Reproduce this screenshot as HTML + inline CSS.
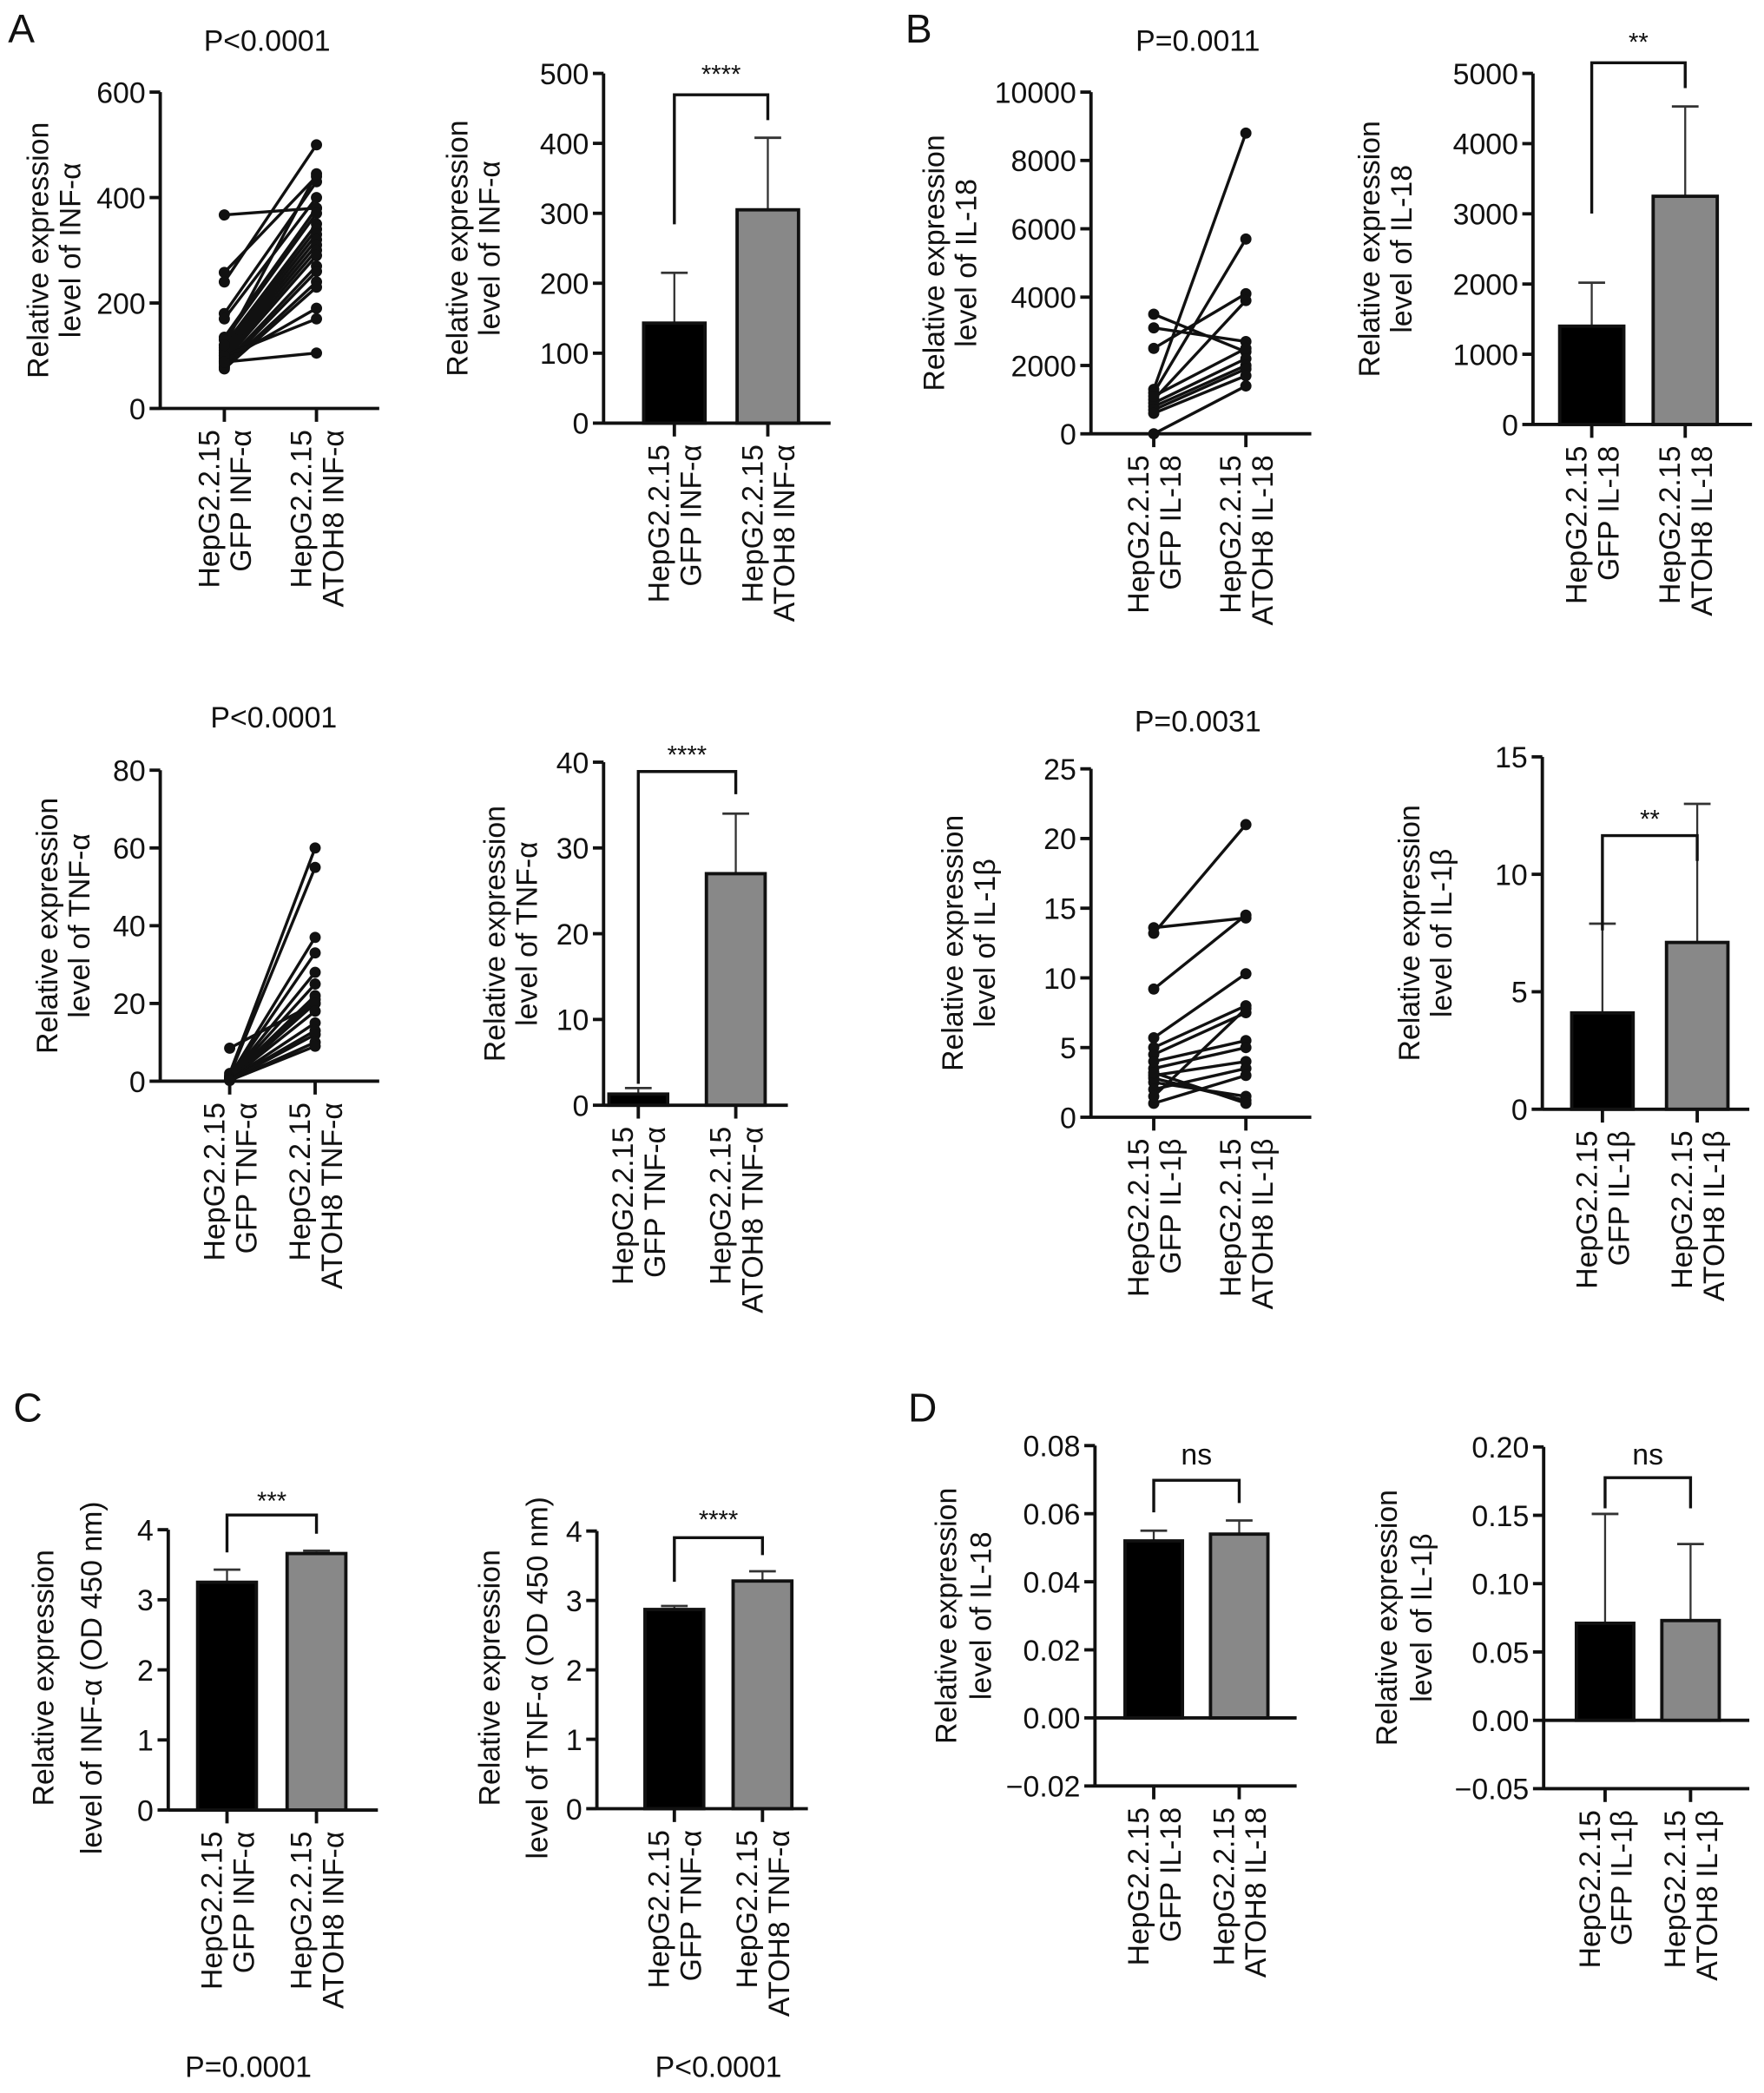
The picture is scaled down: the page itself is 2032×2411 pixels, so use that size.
<!DOCTYPE html>
<html><head><meta charset="utf-8"><style>html,body{margin:0;padding:0;background:#fff}svg{display:block}text{font-family:"Liberation Sans",sans-serif;fill:#111}</style></head>
<body>
<svg id="fig" xmlns="http://www.w3.org/2000/svg" width="2032" height="2411" viewBox="0 0 1321 1568" preserveAspectRatio="none"></svg>
<script>
// ---- data ----
const infGfp = [367,258,240,180,170,135,130,120,115,110,105,100,95,90,85,80,78,75,90,100,88,120];
const infAtoh = [380,440,500,430,400,380,370,350,340,330,320,310,300,290,270,260,240,230,190,170,105,445];
const tnfGfp = [8.5,2,1.5,1.2,1,1,0.8,0.8,0.6,0.5,0.5,0.4,0.3,0.3,0.2,0.2];
const tnfAtoh = [20,60,55,37,33,28,25,22,21,20,18,15,13,12,10,9];
const il18Gfp = [3500,3100,2500,1300,1200,1000,900,800,700,600,0,1100];
const il18Atoh = [2400,2700,4100,8800,5700,3900,2200,2000,1900,1700,1400,2500];
const il1bGfp = [13.6,13.2,9.2,5.7,5,4.5,4,3.5,3,2.5,2,1,2.8,3.2,1.5];
const il1bAtoh = [14.3,21,14.5,10.3,8,7.5,5.5,5,4,1.5,3.5,3,1.2,1,7.8];
const barA2 = [143,305], errA2 = [215,408];
const barB2 = [1400,3250], errB2 = [2020,4530];
const barA4 = [1.3,27], errA4 = [2,34];
const barB4 = [4.1,7.1], errB4 = [7.9,13];
const barC1 = [3.25,3.66], errC1 = [3.43,3.70];
const barC2 = [2.87,3.28], errC2 = [2.92,3.42];
const barD1 = [0.052,0.054], errD1 = [0.055,0.058];
const barD2 = [0.071,0.073], errD2 = [0.151,0.129];
const ticksA1=['0','200','400','600'], ticksA2=['0','100','200','300','400','500'];
const ticksB1=['0','2000','4000','6000','8000','10000'], ticksB2=['0','1000','2000','3000','4000','5000'];
const ticksA3=['0','20','40','60','80'], ticksA4=['0','10','20','30','40'];
const ticksB3=['0','5','10','15','20','25'], ticksB4=['0','5','10','15'];
const ticksC=['0','1','2','3','4'];
const ticksD1=['-0.02','0.00','0.02','0.04','0.06','0.08'], ticksD2=['-0.05','0.00','0.05','0.10','0.15','0.20'];

const FS=22;
const svg=document.getElementById('fig');
const NS='http://www.w3.org/2000/svg';
function mk(tag,a,parent){const e=document.createElementNS(NS,tag);for(const k in a)e.setAttribute(k,a[k]);(parent||svg).appendChild(e);return e;}
function txt(s,a,parent){const e=mk('text',a,parent);e.textContent=s;return e;}

function axes(p){
  const g=mk('g',{});
  
  
  const y=v=>p.y0+(v-p.min)/(p.max-p.min)*(p.y1-p.y0);
  p.y=y;
  const ya=mk('line',{x1:p.ax,y1:y(p.max),x2:p.ax,y2:y(p.min)+1,stroke:'#111','stroke-width':2.5},g);
  
  
  p.ticks.forEach(t=>{const v=parseFloat(t);const yy=y(v);
    mk('line',{x1:p.ax-8,y1:yy,x2:p.ax,y2:yy,stroke:'#111','stroke-width':2.5},g);
    const tl=txt(t.replace('-','\u2212'),{x:p.ax-11,y:yy+8,'text-anchor':'end','font-size':FS},g);
    
    
  });
  const base=p.base!==undefined?p.base:p.min;
  const xa=mk('line',{x1:p.ax,y1:y(base),x2:p.xend,y2:y(base),stroke:'#111','stroke-width':2.5},g);
  
  
  if(p.base!==undefined) mk('line',{x1:p.ax,y1:y(p.min),x2:p.xend,y2:y(p.min),stroke:'#111','stroke-width':2.5},g);
  const by=y(p.min);
  p.cx.forEach((cx,i)=>{
    mk('line',{x1:cx,y1:by,x2:cx,y2:by+10,stroke:'#111','stroke-width':2.5},g);
    const c1=txt('HepG2.2.15',{transform:`translate(${cx-4},${by+16}) rotate(-90)`,'text-anchor':'end','font-size':FS},g);
    
    
    const c2=txt(p.cats[i],{transform:`translate(${cx+20},${by+16}) rotate(-90)`,'text-anchor':'end','font-size':FS},g);
    
    
  });
  const ym=p.ylabY||(y(p.max)+y(p.min))/2;
  const sp=p.ylabSp||24;
  p.ylab.forEach((s,i)=>{const l=txt(s,{transform:`translate(${p.ylabX+i*sp},${ym}) rotate(-90)`,'text-anchor':'middle','font-size':FS},g);
    
    });
  if(p.title){const t=txt(p.title,{x:p.tx,y:p.ty,'text-anchor':'middle','font-size':FS},g);
    
    }
  return g;
}
function paired(p,a,b){
  const g=axes(p);
  a.forEach((v,i)=>{
    const ln=mk('line',{x1:p.cx[0],y1:p.y(v),x2:p.cx[1],y2:p.y(b[i]),stroke:'#111','stroke-width':2.2},g);
    
    
    [[p.cx[0],v],[p.cx[1],b[i]]].forEach(q=>{const c=mk('circle',{cx:q[0],cy:p.y(q[1]),r:4.2,fill:'#111'},g);
      
      });
  });
}
function bars(p,vals,errs){
  const g=axes(p);
  const base=p.base!==undefined?p.base:p.min;
  vals.forEach((v,i)=>{
    const cx=p.cx[i],w=p.bw;
    const e=mk('line',{x1:cx,y1:p.y(v),x2:cx,y2:p.y(errs[i]),stroke:'#333','stroke-width':1.5},g);
    
    
    mk('line',{x1:cx-10,y1:p.y(errs[i]),x2:cx+10,y2:p.y(errs[i]),stroke:'#333','stroke-width':1.8},g);
    const r=mk('rect',{x:cx-w/2,y:p.y(v),width:w,height:p.y(base)-p.y(v),fill:i?'#888':'#000',stroke:'#111','stroke-width':2.5},g);
    
    
  });
  const bt=p.brTop, bb=p.brBot;
  const br=mk('path',{d:`M${p.cx[0]},${bb[0]} V${bt} H${p.cx[1]} V${bb[1]}`,fill:'none',stroke:'#111','stroke-width':2.2},g);
  
  
  const s=txt(p.sig,{x:(p.cx[0]+p.cx[1])/2,y:p.sigY,'text-anchor':'middle','font-size':p.sig==='ns'?22:19,fill:'#444'},g);
  
  
}
const L1=['Relative expression','level of INF-\u03b1'], L2=['Relative expression','level of TNF-\u03b1'];
const L3=['Relative expression','level of IL-18'], L4=['Relative expression','level of IL-1\u03b2'];
const cINF=['GFP INF-\u03b1','ATOH8 INF-\u03b1'], cTNF=['GFP TNF-\u03b1','ATOH8 TNF-\u03b1'];
const cIL18=['GFP IL-18','ATOH8 IL-18'], cIL1B=['GFP IL-1\u03b2','ATOH8 IL-1\u03b2'];

paired({name:'chart-a-inf-paired',ax:120,y0:306,y1:69,min:0,max:600,ticks:ticksA1,xend:284,cx:[168,237],cats:cINF,ylab:L1,ylabX:36,title:'P<0.0001',tx:200,ty:38},infGfp,infAtoh);
bars({name:'chart-a-inf-bar',ax:452,y0:317,y1:55,min:0,max:500,ticks:ticksA2,xend:622,cx:[505,575],bw:46,cats:cINF,ylab:L1,ylabX:350,brTop:71,brBot:[168,90],sig:'****',sigY:62},barA2,errA2);
paired({name:'chart-b-il18-paired',ax:817,y0:325,y1:69,min:0,max:10000,ticks:ticksB1,xend:982,cx:[864,933],cats:cIL18,ylab:L3,ylabX:707,title:'P=0.0011',tx:897,ty:38},il18Gfp,il18Atoh);
bars({name:'chart-b-il18-bar',ax:1148,y0:318,y1:55,min:0,max:5000,ticks:ticksB2,xend:1312,cx:[1192,1262],bw:48,cats:cIL18,ylab:L3,ylabX:1033,brTop:47,brBot:[160,66],sig:'**',sigY:38},barB2,errB2);
paired({name:'chart-a-tnf-paired',ax:120,y0:810,y1:577,min:0,max:80,ticks:ticksA3,xend:284,cx:[172,236],cats:cTNF,ylab:L2,ylabX:43,title:'P<0.0001',tx:205,ty:545},tnfGfp,tnfAtoh);
bars({name:'chart-a-tnf-bar',ax:452,y0:828,y1:571,min:0,max:40,ticks:ticksA4,xend:590,cx:[478,551],bw:44,cats:cTNF,ylab:L2,ylabX:378,brTop:578,brBot:[812,595],sig:'****',sigY:572},barA4,errA4);
paired({name:'chart-b-il1b-paired',ax:817,y0:837,y1:576,min:0,max:25,ticks:ticksB3,xend:982,cx:[864,933],cats:cIL1B,ylab:L4,ylabX:721,title:'P=0.0031',tx:897,ty:548},il1bGfp,il1bAtoh);
bars({name:'chart-b-il1b-bar',ax:1155,y0:831,y1:567,min:0,max:15,ticks:ticksB4,xend:1310,cx:[1200,1271],bw:46,cats:cIL1B,ylab:L4,ylabX:1063,brTop:626,brBot:[697,645],sig:'**',sigY:620},barB4,errB4);
bars({name:'chart-c-inf-elisa',ax:126,y0:1356,y1:1146,min:0,max:4,ticks:ticksC,xend:283,cx:[170,237],bw:44,cats:cINF,ylab:['Relative expression','level of INF-\u03b1 (OD 450 nm)'],ylabX:40,ylabSp:36,ylabY:1257,brTop:1135,brBot:[1163,1149],sig:'***',sigY:1131},barC1,errC1);
bars({name:'chart-c-tnf-elisa',ax:447,y0:1355,y1:1147,min:0,max:4,ticks:ticksC,xend:605,cx:[505,571],bw:44,cats:cTNF,ylab:['Relative expression','level of TNF-\u03b1 (OD 450 nm)'],ylabX:374,ylabSp:36,ylabY:1257,brTop:1152,brBot:[1185,1165],sig:'****',sigY:1145},barC2,errC2);
bars({name:'chart-d-il18',ax:820,y0:1338,y1:1083,min:-0.02,max:0.08,base:0,ticks:ticksD1,xend:971,cx:[864,928],bw:43,cats:cIL18,ylab:L3,ylabX:716,ylabSp:26,brTop:1109,brBot:[1133,1126],sig:'ns',sigY:1097},barD1,errD1);
bars({name:'chart-d-il1b',ax:1156,y0:1340,y1:1084,min:-0.05,max:0.2,base:0,ticks:ticksD2,xend:1310,cx:[1202,1266],bw:43,cats:cIL1B,ylab:L4,ylabX:1046,ylabSp:26,brTop:1107,brBot:[1130,1130],sig:'ns',sigY:1097},barD2,errD2);

[['A',6,32],['B',678,32],['C',10,1065],['D',680,1065]].forEach(l=>{const t=txt(l[0],{x:l[1],y:l[2],'font-size':30});
  
  });
[['P=0.0001',186,1556],['P<0.0001',538,1556]].forEach(l=>{const t=txt(l[0],{x:l[1],y:l[2],'text-anchor':'middle','font-size':FS});
  
  });
</script>
</body></html>
